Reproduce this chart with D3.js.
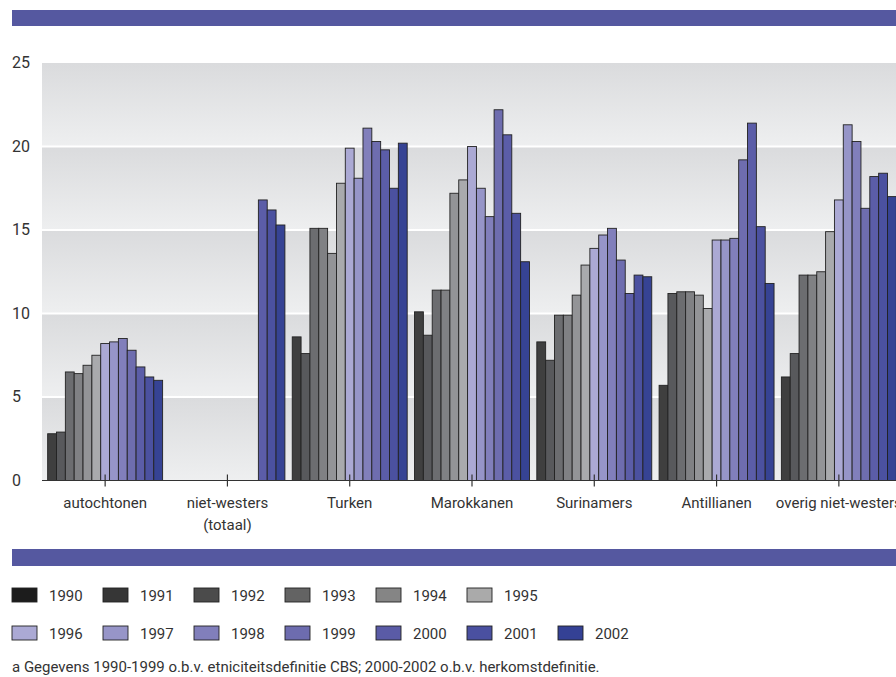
<!DOCTYPE html>
<html>
<head>
<meta charset="utf-8">
<script src="https://cdn.jsdelivr.net/npm/d3@7/dist/d3.min.js"></script>
<style>
  body { margin: 0; background: #fff; }
  svg { display: block; font-family: "Roboto", "Liberation Sans", sans-serif; }
</style>
</head>
<body>
<svg id="chart" width="896" height="677"></svg>
<script>
// Percentages per group and year, 1990-2002

const years = ['1990','1991','1992','1993','1994','1995','1996','1997','1998','1999','2000','2001','2002'];
const categories = ['autochtonen', 'niet-westers (totaal)', 'Turken', 'Marokkanen', 'Surinamers', 'Antillianen', 'overig niet-westers'];
const categoryLines = [['autochtonen'], ['niet-westers', '(totaal)'], ['Turken'], ['Marokkanen'], ['Surinamers'], ['Antillianen'], ['overig niet-westers']];

const autochtonen = [2.8, 2.9, 6.5, 6.4, 6.9, 7.5, 8.2, 8.3, 8.5, 7.8, 6.8, 6.2, 6.0];
const nietWesters = [null, null, null, null, null, null, null, null, null, null, 16.8, 16.2, 15.3];
const turken      = [8.6, 7.6, 15.1, 15.1, 13.6, 17.8, 19.9, 18.1, 21.1, 20.3, 19.8, 17.5, 20.2];
const marokkanen  = [10.1, 8.7, 11.4, 11.4, 17.2, 18.0, 20.0, 17.5, 15.8, 22.2, 20.7, 16.0, 13.1];
const surinamers  = [8.3, 7.2, 9.9, 9.9, 11.1, 12.9, 13.9, 14.7, 15.1, 13.2, 11.2, 12.3, 12.2];
const antillianen = [5.7, 11.2, 11.3, 11.3, 11.1, 10.3, 14.4, 14.4, 14.5, 19.2, 21.4, 15.2, 11.8];
const overig      = [6.2, 7.6, 12.3, 12.3, 12.5, 14.9, 16.8, 21.3, 20.3, 16.3, 18.2, 18.4, 17.0];
const series = [autochtonen, nietWesters, turken, marokkanen, surinamers, antillianen, overig];

const yTicks = [0, 5, 10, 15, 20, 25];

const barColors = ['#3f3f3f','#58595c','#6c6d70','#808184','#939497','#a9aaad','#aba9d4','#9695c8','#817fbb','#6e6daf','#5b5da8','#4b51a0','#364394'];
const legendColors = ['#1c1c1c','#363636','#4b4b4b','#636363','#858585','#aaaaaa','#aba9d4','#9795c8','#817fbb','#6d6caf','#5a5ba6','#4a50a0','#344195'];

const footnote = 'a Gegevens 1990-1999 o.b.v. etniciteitsdefinitie CBS; 2000-2002 o.b.v. herkomstdefinitie.';

const svg = d3.select('#chart');
const width = +svg.attr('width');
const band = '#5558a0';

const plotLeft = 42, plotTop = 63, plotBottom = 480.5;

const x = d3.scaleBand().domain(categories).range([44, 900]).paddingInner(0.06).paddingOuter(0.03);
const x1 = d3.scaleBand().domain(years).range([0, x.bandwidth()]);
const y = d3.scaleLinear().domain([0, 25]).range([plotBottom, plotTop]);
const color = d3.scaleOrdinal().domain(years).range(barColors);

// top and bottom stripes
svg.append('rect').attr('x', 12).attr('y', 10).attr('width', width - 12).attr('height', 16).attr('fill', band);
svg.append('rect').attr('x', 12).attr('y', 549).attr('width', width - 12).attr('height', 17).attr('fill', band);

// background bands with a soft gradient
const defs = svg.append('defs');
const grad = defs.append('linearGradient').attr('id', 'bandGrad').attr('x1', 0).attr('y1', 0).attr('x2', 0).attr('y2', 1);
grad.append('stop').attr('offset', '0%').attr('stop-color', '#dadbdd');
grad.append('stop').attr('offset', '100%').attr('stop-color', '#eeeff0');

svg.append('g').selectAll('rect')
    .data(yTicks.slice(0, -1))
    .enter()
    .append('rect')
    .attr('x', plotLeft)
    .attr('y', d => y(d + 5))
    .attr('width', width - plotLeft)
    .attr('height', d => y(d) - y(d + 5))
    .attr('fill', 'url(#bandGrad)');

svg.append('g').selectAll('line')
    .data(yTicks.slice(1, -1))
    .enter()
    .append('line')
    .attr('x1', plotLeft).attr('x2', width)
    .attr('y1', d => y(d)).attr('y2', d => y(d))
    .attr('stroke', '#fff').attr('stroke-width', 2);

// y labels
svg.append('g').selectAll('text')
    .data(yTicks)
    .enter()
    .append('text')
    .attr('x', 12)
    .attr('y', d => y(d) + 5)
    .attr('font-size', '16px')
    .attr('fill', '#333')
    .text(d => d);

// bars
const groups = svg.append('g').selectAll('g')
    .data(categories)
    .enter()
    .append('g')
    .attr('transform', d => `translate(${x(d)},0)`);

groups.selectAll('rect')
    .data((d, i) => years.map((yr, j) => ({ year: yr, value: series[i][j] })).filter(e => e.value != null))
    .enter()
    .append('rect')
    .attr('x', d => x1(d.year))
    .attr('y', d => y(d.value))
    .attr('width', x1.bandwidth())
    .attr('height', d => y(0) - y(d.value))
    .attr('fill', d => color(d.year))
    .attr('stroke', '#222')
    .attr('stroke-width', 0.9);

// x axis line and ticks
svg.append('line')
    .attr('x1', plotLeft).attr('x2', width)
    .attr('y1', plotBottom).attr('y2', plotBottom)
    .attr('stroke', '#333').attr('stroke-width', 1.2);

svg.append('g').selectAll('line')
    .data(categories)
    .enter()
    .append('line')
    .attr('x1', d => x(d) + x.bandwidth() / 2)
    .attr('x2', d => x(d) + x.bandwidth() / 2)
    .attr('y1', plotBottom - 6).attr('y2', plotBottom + 6)
    .attr('stroke', '#333').attr('stroke-width', 1.2);

const labels = svg.append('g').selectAll('text')
    .data(categories)
    .enter()
    .append('text')
    .attr('text-anchor', 'middle')
    .attr('font-size', '15px')
    .attr('fill', '#333');

labels.selectAll('tspan')
    .data((d, i) => categoryLines[i].map(t => ({ t, cx: x(d) + x.bandwidth() / 2 })))
    .enter()
    .append('tspan')
    .attr('x', d => d.cx)
    .attr('y', (d, i) => 508 + i * 22)
    .text(d => d.t);

// legend
const legendRows = [years.slice(0, 6), years.slice(6)];
legendRows.forEach((row, r) => {
    const g = svg.append('g').attr('transform', `translate(12,${588 + r * 38})`);
    const item = g.selectAll('g')
        .data(row)
        .enter()
        .append('g')
        .attr('transform', (d, i) => `translate(${i * 91},0)`);
    item.append('rect')
        .attr('width', 25).attr('height', 14)
        .attr('fill', d => legendColors[years.indexOf(d)])
        .attr('stroke', '#222').attr('stroke-width', 0.9);
    item.append('text')
        .attr('x', 37).attr('y', 13)
        .attr('font-size', '15px')
        .attr('fill', '#333')
        .text(d => d);
});

svg.append('text')
    .attr('x', 12).attr('y', 672)
    .attr('font-size', '15px')
    .attr('fill', '#333')
    .text(footnote);
</script>
</body>
</html>
